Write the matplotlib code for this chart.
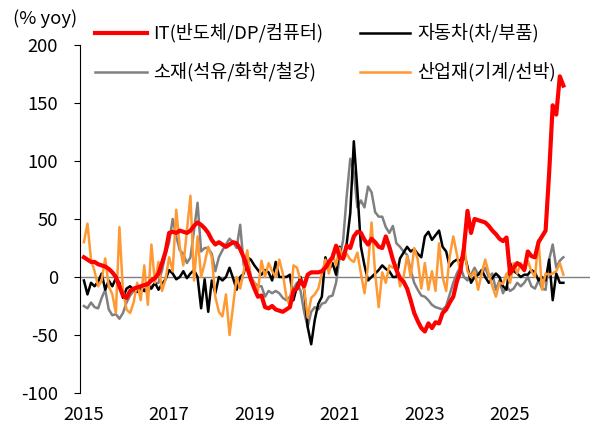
import matplotlib
matplotlib.use("Agg")
import matplotlib.pyplot as plt
from matplotlib.lines import Line2D
import numpy as np

plt.rcParams['font.family'] = ['Noto Sans CJK KR', 'DejaVu Sans']
plt.rcParams['axes.unicode_minus'] = False

# Monthly data, Jan 2015 - Apr 2026 (% yoy)
it = [17, 15, 13, 13, 11, 10, 9, 7, 4, 0, -8, -16,
      -18, -12, -10, -9, -8, -7, -6, -3, -1, 3, 12, 22,
      38, 39, 38, 40, 39, 38, 40, 44, 47, 45, 42, 38,
      32, 28, 30, 28, 26, 28, 30, 29, 24, 17, 8, -2,
      -10, -17, -16, -26, -27, -25, -28, -29, -30, -28, -26, -12,
      -10, -3, -8, 2, 4, 4, 4, 5, 8, 13, 17, 27,
      17, 16, 27, 25, 35, 39, 38, 32, 28, 33, 30, 26,
      25, 35, 26, 15, 6, -1, -4, -10, -20, -31, -38, -44,
      -47, -40, -44, -39, -40, -31, -28, -22, -17, -4, 5, 25,
      57, 38, 50, 49, 48, 47, 44, 40, 37, 33, 31, 34,
      3, 8, 12, 10, 6, 22, 18, 17, 30, 35, 40, 90,
      148, 140, 173, 165]
auto = [-3, -15, -5, -8, -4, 3, -11, -3, -8, -1, -5, -18,
        -10, -8, -11, -13, -9, -12, -7, -10, -5, -11, -6, -2,
        6, 3, -2, 0, 5, -1, 3, 6, 0, -27, -2, -30,
        -3, -14, 0, -3, 0, 8, -1, -11, 0, 3, 17, 15,
        10, 6, 2, 6, 4, -3, 13, 0, 0, 0, 2, -20,
        -8, 0, -11, -43, -58, -37, -23, -17, 17, 6, 12, 2,
        26, 15, 29, 55, 117, 75, 26, 10, -3, 0, 3, 6,
        10, 7, 5, 0, 0, 16, 21, 26, 22, 24, 20, 17,
        35, 39, 32, 36, 40, 26, 22, 9, 13, 15, 14, 21,
        9, -5, 0, 2, 6, 0, -5, -1, 3, 0, -8, -11,
        12, 5, 3, 0, 2, 2, 6, 4, -3, 0, -3, 15,
        -20, 3, -5, -5]
materials = [-25, -27, -22, -26, -27, -18, -11, -28, -33, -32, -36, -31,
             -22, -16, -12, -11, -11, -12, -13, -8, -6, -5, 6, 20,
             30, 50, 35, 23, 20, 12, 17, 40, 64, 22, 25, 25,
             20, 5, 17, 23, 28, 33, 30, 25, 45, 10, 20, 0,
             -5, -8, -8, -17, -12, -14, -12, -14, -18, -20, -17, -10,
             -5, -12, -30, -43, -30, -26, -28, -23, -22, -17, -16, -5,
             17, 32, 70, 102, 90, 60, 66, 60, 78, 73, 56, 52,
             52, 43, 38, 44, 29, 26, 22, 19, 6, -5, -11, -16,
             -17, -20, -24, -26, -27, -28, -25, -15, -5, 3, 9, 0,
             -3, 2, 8, 2, 3, 8, 0, 3, -11, -3, -14, -8,
             -12, -10, -5, -8, -5, 0, -8, -10, -3, -10, -11, 15,
             28, 8, 14, 17]
industrial = [30, 46, 15, 5, -8, -3, 16, -8, -15, -31, 43, -12,
              -28, -31, -22, -5, -20, 10, -24, 28, -5, 13, -12, -2,
              17, 5, 58, 26, 10, 40, 70, -3, 35, 0, 12, 26,
              17, -17, -30, -34, -15, -50, -25, 0, -10, 5, 23, -3,
              -5, -12, 14, 0, 12, 5, 0, 15, 3, -17, -25, 10,
              8, -3, -10, -35, -18, -15, -10, 3, 15, 3, 20, 10,
              25, 15, 20, 15, 13, 21, 3, -14, 10, 47, 3, -26,
              4, -5, 10, 8, 10, -8, 0, 18, 0, 25, 15, -10,
              12, -11, 5, -12, 29, 0, -12, 18, 35, 20, 3, 29,
              5, 0, 5, -11, 3, 15, 3, -8, -17, -5, -6, 3,
              -5, 12, 3, 12, 5, 14, 5, 0, 32, -11, 3, 2,
              3, 5, 12, 2]

labels = ['IT(반도체/DP/컴퓨터)', '자동차(차/부품)', '소재(석유/화학/철강)', '산업재(기계/선박)']
year_labels = ['2015', '2017', '2019', '2021', '2023', '2025']

x = np.arange(len(it))
W, H = 591, 430
FS = 13.3

fig = plt.figure(figsize=(W/100, H/100), dpi=100)
ax = fig.add_axes([80/W, 1-393/H, 510/W, 348/H])

ax.axhline(0, color='#7f7f7f', lw=1.0, zorder=1)
l_it, = ax.plot(x, it, color='#ff0000', lw=3.0, zorder=5, solid_joinstyle='round')
l_auto, = ax.plot(x, auto, color='#000000', lw=1.8, zorder=3)
l_mat, = ax.plot(x, materials, color='#808080', lw=1.8, zorder=2)
l_ind, = ax.plot(x, industrial, color='#ff9933', lw=1.8, zorder=4)

ax.set_ylim(-100, 200)
ax.set_xlim(-1.1, 142.5)
ax.set_yticks([-100, -50, 0, 50, 100, 150, 200])
ax.set_xticks([0, 24, 48, 72, 96, 120])
ax.set_xticklabels(year_labels)
for s in ['top', 'right', 'bottom']:
    ax.spines[s].set_visible(False)
ax.spines['left'].set_color('#000000')
ax.spines['left'].set_linewidth(0.8)
ax.tick_params(axis='y', direction='out', length=4, width=0.8, labelsize=FS, pad=12)
ax.tick_params(axis='x', length=0, labelsize=FS, pad=9)

fig.text(13/W, 1-19/H, '(% yoy)', fontsize=FS, va='center', ha='left')

# legend (two rows, two columns), drawn as handles + text in figure coords
handles = [(l_it, 95, 147, 153, 33), (l_auto, 360, 410, 417, 33),
           (l_mat, 95, 147, 153, 72), (l_ind, 360, 410, 417, 72)]
for (ln, x0, x1, xt, yy), lab in zip(handles, labels):
    fig.add_artist(Line2D([x0/W, x1/W], [1-yy/H, 1-yy/H], color=ln.get_color(),
                          lw=ln.get_linewidth(), transform=fig.transFigure))
    fig.text(xt/W, 1-yy/H, lab, fontsize=FS, va='center', ha='left')

fig.savefig('out.png', dpi=100)
